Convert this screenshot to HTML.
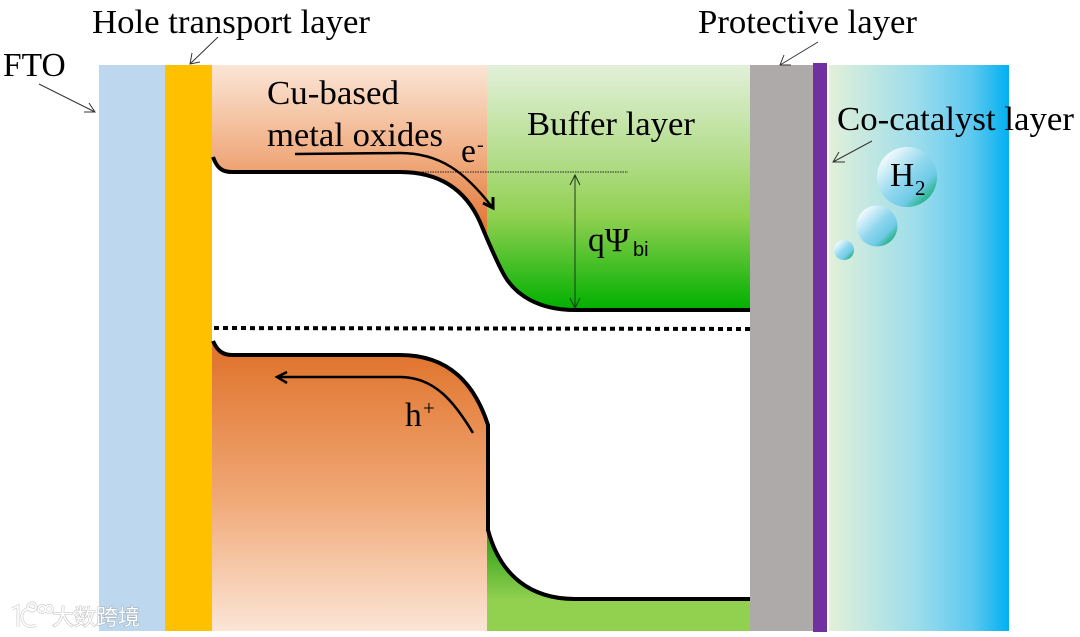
<!DOCTYPE html>
<html>
<head>
<meta charset="utf-8">
<style>
html,body{margin:0;padding:0;background:#fff;width:1080px;height:637px;overflow:hidden}
svg{display:block;filter:blur(.35px)}
text{font-family:"Liberation Serif",serif;fill:#000}
</style>
</head>
<body>
<svg width="1080" height="637" viewBox="0 0 1080 637" xmlns="http://www.w3.org/2000/svg">
<defs>
<linearGradient id="o1" gradientUnits="userSpaceOnUse" x1="0" y1="65" x2="0" y2="235">
<stop offset="0" stop-color="#fbe5d6"/><stop offset="0.55" stop-color="#f0ab7e"/><stop offset="1" stop-color="#e0722f"/>
</linearGradient>
<linearGradient id="o2" gradientUnits="userSpaceOnUse" x1="0" y1="355" x2="0" y2="631">
<stop offset="0" stop-color="#e0752f"/><stop offset="0.5" stop-color="#f0a673"/><stop offset="1" stop-color="#fbe5d6"/>
</linearGradient>
<linearGradient id="g1" gradientUnits="userSpaceOnUse" x1="0" y1="65" x2="0" y2="310">
<stop offset="0" stop-color="#e2f0d9"/><stop offset="0.4" stop-color="#b0dc86"/><stop offset="0.62" stop-color="#90d050"/><stop offset="1" stop-color="#00b000"/>
</linearGradient>
<linearGradient id="g2" gradientUnits="userSpaceOnUse" x1="0" y1="540" x2="0" y2="600">
<stop offset="0" stop-color="#35a31c"/><stop offset="1" stop-color="#92d050"/>
</linearGradient>
<linearGradient id="c1" x1="0" y1="0" x2="1" y2="0">
<stop offset="0" stop-color="#e2f0d9"/><stop offset="0.5" stop-color="#9adcec"/><stop offset="0.8" stop-color="#5cc8f0"/><stop offset="1" stop-color="#00b0f0"/>
</linearGradient>
<linearGradient id="b1" x1="0.1" y1="0.1" x2="0.9" y2="0.9">
<stop offset="0" stop-color="#ffffff"/><stop offset="0.5" stop-color="#8ed6ee"/><stop offset="0.75" stop-color="#6fcbe6"/><stop offset="1" stop-color="#12ac68"/>
</linearGradient>
</defs>

<rect x="99" y="65" width="66" height="566" fill="#bdd7ee"/>
<rect x="212" y="65" width="275" height="190" fill="url(#o1)"/>
<rect x="212" y="340" width="275" height="291" fill="url(#o2)"/>
<rect x="487" y="65" width="263" height="245" fill="url(#g1)"/>
<rect x="487" y="530" width="263" height="71" fill="url(#g2)"/>
<rect x="487" y="600" width="263" height="31" fill="#92d050"/>

<path d="M212,157 C216,168 222,172 232,172 L400,172 C445,172 468,195 480,222 C488,241 494,256 503,273 C515,296 540,310 575,310 L750,310 L750,599 L575,599 C530,599 500,575 488,530 L488,425 C475,385 450,355 400,355 L232,355 C222,355 216,350 212,341 Z" fill="#fff"/>

<rect x="165" y="65" width="47" height="566" fill="#ffc000"/>
<rect x="750" y="65" width="63" height="566" fill="#aeaaaa"/>
<rect x="813" y="63" width="14" height="569" fill="#7030a0"/>
<rect x="829" y="65" width="180" height="566" fill="url(#c1)"/>

<path d="M213,157 C217,168 222,172 232,172 L400,172 C445,172 468,195 480,222 C488,241 494,256 503,273 C515,296 540,310 575,310 L750,310" fill="none" stroke="#000" stroke-width="4"/>
<path d="M213,341 C217,350 222,355 232,355 L400,355 C450,355 475,385 488,425 L488,530 C500,575 530,599 575,599 L750,599" fill="none" stroke="#000" stroke-width="4"/>
<path d="M214,328 L750,329" stroke="#000" stroke-width="4" stroke-dasharray="5 4" fill="none"/>
<path d="M420,172 L628,172" stroke="#222" stroke-width="1" stroke-dasharray="1.5 1" fill="none"/>

<path d="M295,154 L400,153 C440,153 465,172 492,207" fill="none" stroke="#000" stroke-width="2.5"/>
<path d="M483,203 L493,208 L493,197" fill="none" stroke="#000" stroke-width="3"/>
<path d="M473,433 C455,403 435,377 400,377 L278,377" fill="none" stroke="#000" stroke-width="2.5"/>
<path d="M287,372 L277,377 L287,383" fill="none" stroke="#000" stroke-width="2.5"/>

<g fill="none" stroke="#1a3a1a" stroke-width="1">
<path d="M575,175 L575,308"/>
<path d="M570,185 L575,175 L580,185"/>
<path d="M570,298 L575,308 L580,298"/>
</g>
<g fill="none" stroke="#333" stroke-width="1">
<path d="M39,84 L95,112 M84,112 L95,112 L89,103"/>
<path d="M218,37 L190,64 M192,53 L190,64 L200,62"/>
<path d="M818,42 L780,65 M784,55 L780,65 L791,65"/>
<path d="M872,141 L833,162 M839,152 L833,162 L845,162"/>
</g>

<circle cx="907" cy="177" r="30" fill="url(#b1)"/>
<circle cx="877" cy="226" r="20.5" fill="url(#b1)"/>
<circle cx="844" cy="250" r="10" fill="url(#b1)"/>

<text x="3" y="76" font-size="33.5">FTO</text>
<text x="92" y="33" font-size="33.5" textLength="278" lengthAdjust="spacingAndGlyphs">Hole transport layer</text>
<text x="698" y="33" font-size="33.5" textLength="219" lengthAdjust="spacingAndGlyphs">Protective layer</text>
<text x="837" y="130" font-size="33.5" textLength="237" lengthAdjust="spacingAndGlyphs">Co-catalyst layer</text>
<text x="267" y="104" font-size="33.5" textLength="132" lengthAdjust="spacingAndGlyphs">Cu-based</text>
<text x="267" y="146" font-size="33.5" textLength="176" lengthAdjust="spacingAndGlyphs">metal oxides</text>
<text x="527" y="135" font-size="33.5" textLength="168" lengthAdjust="spacingAndGlyphs">Buffer layer</text>
<text x="461" y="162" font-size="33.5">e</text>
<text x="477" y="151" font-size="20">-</text>
<text x="405" y="426" font-size="33.5">h</text>
<text x="423" y="415" font-size="21">+</text>
<text x="588" y="251" font-size="33.5">qΨ</text>
<text x="633" y="256" font-size="20" style="font-family:'Liberation Sans',sans-serif">bi</text>
<text x="890" y="186" font-size="33.5">H</text>
<text x="915" y="195" font-size="21">2</text>

<g fill="none" stroke="#cfcfcf" stroke-width="3">
<path d="M12,609 L18,606 L18,627"/>
<path d="M34,610 C26,606 21,612 22,618 C23,626 30,628 36,625"/>
<circle cx="32" cy="607" r="4"/><circle cx="42" cy="609" r="3.5"/><circle cx="49" cy="609" r="3.5"/>
</g>
<g fill="none" stroke="#fff" stroke-width="1.6">
<path d="M12,609 L18,606 L18,627"/>
<path d="M34,610 C26,606 21,612 22,618 C23,626 30,628 36,625"/>
<circle cx="32" cy="607" r="4"/><circle cx="42" cy="609" r="3.5"/><circle cx="49" cy="609" r="3.5"/>
</g>
<text x="52" y="625" font-size="22" textLength="88" style="font-family:'Noto Sans CJK SC',sans-serif;fill:#fff;stroke:rgba(130,130,130,.55);stroke-width:1;paint-order:stroke">大数跨境</text>
</svg>
</body>
</html>
